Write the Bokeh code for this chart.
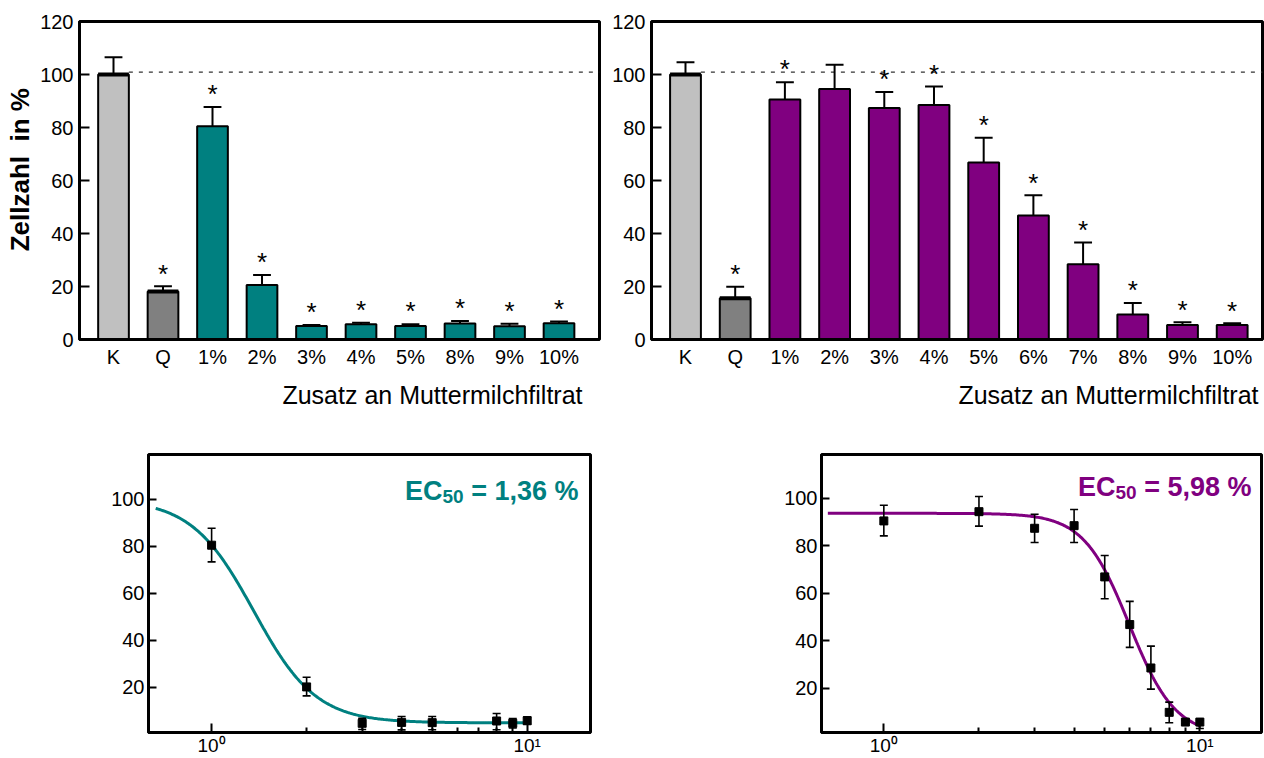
import numpy as np
from bokeh.plotting import figure
from bokeh.layouts import column, row
from bokeh.models import FixedTicker, Range1d, ColumnDataSource, BasicTickFormatter
from bokeh.embed import file_html
from bokeh.resources import INLINE
from bokeh.core.properties import value

FONT = "Liberation Sans"
TEAL = "#008080"
PURPLE = "#800080"
CTRL = "#C0C0C0"
QCOL = "#808080"

# ---------------- data: bar charts ----------------
cats_left = ["K", "Q", "1%", "2%", "3%", "4%", "5%", "8%", "9%", "10%"]
vals_left = [100, 18.1, 80.5, 20.6, 5.1, 5.8, 5.1, 6.0, 5.0, 6.1]
err_left = [106.5, 20.1, 87.7, 24.3, 5.5, 6.3, 5.8, 7.0, 5.9, 6.8]
sig_left = [False, True, True, True, True, True, True, True, True, True]

cats_right = ["K", "Q", "1%", "2%", "3%", "4%", "5%", "6%", "7%", "8%", "9%", "10%"]
vals_right = [100, 15.6, 90.6, 94.5, 87.4, 88.5, 66.8, 46.8, 28.4, 9.4, 5.5, 5.5]
err_right = [104.6, 19.9, 97.1, 103.7, 93.4, 95.5, 76.1, 54.4, 36.6, 13.8, 6.5, 6.1]
sig_right = [False, True, True, False, True, True, True, True, True, True, True, True]

ref_level = 100.9

# ---------------- data: dose-response ----------------
dose_left = [1, 2, 3, 4, 5, 8, 9, 10]
resp_left = [80.4, 20.1, 4.6, 5.0, 4.9, 5.6, 4.6, 5.7]
lo_left = [73.3, 16.3, 2.0, 1.8, 1.9, 1.9, 2.6, 4.2]
hi_left = [87.6, 24.2, 6.7, 7.5, 7.5, 8.8, 6.6, 7.4]

dose_right = [1, 2, 3, 4, 5, 6, 7, 8, 9, 10]
resp_right = [90.5, 94.4, 87.4, 88.5, 66.9, 46.8, 28.5, 9.8, 5.7, 5.7]
lo_right = [84.2, 88.3, 81.4, 81.4, 57.7, 37.2, 19.6, 5.4, 5.0, 3.0]
hi_right = [97.1, 100.8, 93.3, 95.3, 75.9, 56.6, 37.7, 14.1, 6.4, 6.4]

# fitted 4-parameter logistic models (top, bottom, EC50, hill)
fit_left = dict(top=100.0, bottom=4.8, ec50=1.36, hill=4.4, xmin=0.665, xmax=10.25)
fit_right = dict(top=93.7, bottom=0.0, ec50=5.98, hill=6.0, xmin=0.665, xmax=10.0)
ec_text_left = "1,36"
ec_text_right = "5,98"

X_TITLE = "Zusatz an Muttermilchfiltrat"
Y_TITLE = "\u00a0\u00a0\u00a0Zellzahl\u00a0 in %"
BAR_W = 0.62


def style_common(p):
    p.grid.visible = False
    p.outline_line_color = "black"
    p.outline_line_width = 3
    p.background_fill_color = "white"
    p.border_fill_color = "white"
    for ax in (p.xaxis[0], p.yaxis[0]):
        ax.axis_line_width = 3
        ax.axis_line_color = "black"
        ax.major_label_text_font = FONT
        ax.major_label_text_color = "black"
        ax.major_tick_line_width = 2
        ax.major_tick_line_color = "black"
        ax.minor_tick_line_color = None


def bar_panel(cats, vals, errs, sig, color, width, height, mb, x_rng, title_offset,
              title_standoff, ylabel=None):
    n = len(cats)
    xs = list(range(n))
    fills = [CTRL, QCOL] + [color] * (n - 2)
    p = figure(width=width, height=height, x_range=Range1d(*x_rng), y_range=Range1d(0, 120),
               output_backend="svg", toolbar_location=None, title_location="below",
               min_border_left=mb[0], min_border_right=mb[1],
               min_border_top=mb[2], min_border_bottom=mb[3])
    style_common(p)
    src = ColumnDataSource(dict(x=xs, top=vals, err=errs, fill=fills,
                                c0=[x - 0.18 for x in xs], c1=[x + 0.18 for x in xs]))
    # reference line (control level)
    p.segment(x0=[xs[0] + BAR_W / 2], y0=[ref_level], x1=[x_rng[1]], y1=[ref_level],
              line_color="#333333", line_width=1.2, line_dash="4 6")
    # error bars (upper only)
    p.segment(x0="x", y0="top", x1="x", y1="err", source=src, line_color="black", line_width=2)
    p.segment(x0="c0", y0="err", x1="c1", y1="err", source=src, line_color="black", line_width=2)
    # bars
    p.vbar(x="x", top="top", width=BAR_W, fill_color="fill", line_color="black",
           line_width=2, source=src)
    # thicker top edge of control bars
    p.segment(x0=[x - BAR_W / 2 for x in xs[:2]], y0=vals[:2],
              x1=[x + BAR_W / 2 for x in xs[:2]], y1=vals[:2],
              line_color="black", line_width=4)
    # significance stars
    sx = [x for x, s in zip(xs, sig) if s]
    sy = [e + 4.8 for e, s in zip(errs, sig) if s]
    p.text(x=sx, y=sy, text=["*"] * len(sx), text_align="center", text_baseline="alphabetic",
           text_font=value(FONT), text_font_size="26px", text_color="black")

    p.yaxis.ticker = FixedTicker(ticks=[0, 20, 40, 60, 80, 100, 120])
    p.yaxis.major_tick_in = 10
    p.yaxis.major_tick_out = 0
    p.yaxis.major_label_standoff = 6
    p.yaxis.major_label_text_font_size = "20px"
    p.xaxis.ticker = FixedTicker(ticks=xs)
    p.xaxis.major_label_overrides = {i: c for i, c in enumerate(cats)}
    p.xaxis.major_tick_in = 0
    p.xaxis.major_tick_out = 0
    p.xaxis.major_tick_line_color = None
    p.xaxis.major_label_standoff = 6
    p.xaxis.major_label_text_font_size = "20px"
    if ylabel:
        p.yaxis.axis_label = ylabel
        p.yaxis.axis_label_text_font = FONT
        p.yaxis.axis_label_text_font_style = "bold"
        p.yaxis.axis_label_text_font_size = "26px"
        p.yaxis.axis_label_text_color = "black"
        p.yaxis.axis_label_standoff = 2
    p.title.text = X_TITLE
    p.title.align = "right"
    p.title.offset = title_offset
    p.title.standoff = title_standoff
    p.title.text_font = FONT
    p.title.text_font_style = "normal"
    p.title.text_font_size = "25px"
    p.title.text_color = "black"
    return p


CHAR_W = {" ": 0.278, "\u00a0": 0.278, "=": 0.584, ",": 0.278, "%": 0.889, "E": 0.667, "C": 0.722}


def text_w(s, size):
    return sum(CHAR_W.get(ch, 0.556) for ch in s) * size


def dose_panel(dose, resp, lo, hi, fit, color, ec_txt, width, height, mb, x_rng, y_rng,
               ec_right_px, ec_base_px):
    p = figure(width=width, height=height, x_axis_type="log",
               x_range=Range1d(*x_rng), y_range=Range1d(*y_rng),
               output_backend="svg", toolbar_location=None,
               min_border_left=mb[0], min_border_right=mb[1],
               min_border_top=mb[2], min_border_bottom=mb[3])
    style_common(p)
    # fitted curve
    cx = np.logspace(np.log10(fit["xmin"]), np.log10(fit["xmax"]), 300)
    cy = fit["bottom"] + (fit["top"] - fit["bottom"]) / (1 + (cx / fit["ec50"]) ** fit["hill"])
    p.line(cx, cy, line_color=color, line_width=3)
    # error bars
    p.segment(x0=dose, y0=lo, x1=dose, y1=hi, line_color="black", line_width=1.6)
    p.scatter(dose, hi, marker="dash", size=8, line_color="black", line_width=1.6)
    p.scatter(dose, lo, marker="dash", size=8, line_color="black", line_width=1.6)
    p.scatter(dose, resp, marker="square", size=8, fill_color="black", line_color="black")

    # EC50 label (EC + subscript 50 + value)
    fw = width - mb[0] - mb[1]
    fh = height - mb[2] - mb[3]
    lx0, lx1 = np.log10(x_rng[0]), np.log10(x_rng[1])
    ppx = fw / (lx1 - lx0)
    ppy = fh / (y_rng[1] - y_rng[0])

    def X(px_from_right):
        return 10 ** (lx1 - px_from_right / ppx)

    def Y(px_from_top):
        return y_rng[1] - px_from_top / ppy

    main = "\u00a0= " + ec_txt + " %"
    big, small = 27, 19
    w_main = text_w(main, big)
    w_sub = text_w("50", small)
    common = dict(text_align="right", text_baseline="alphabetic", text_font=value(FONT),
                  text_font_style="bold", text_color=color)
    p.text(x=[X(ec_right_px)], y=[Y(ec_base_px)], text=[main], text_font_size=f"{big}px", **common)
    p.text(x=[X(ec_right_px + w_main)], y=[Y(ec_base_px + 5)], text=["50"],
           text_font_size=f"{small}px", **common)
    p.text(x=[X(ec_right_px + w_main + w_sub)], y=[Y(ec_base_px)], text=["EC"],
           text_font_size=f"{big}px", **common)

    p.xaxis.ticker = FixedTicker(ticks=[1, 10], minor_ticks=[2, 3, 4, 5, 6, 7, 8, 9])
    p.xaxis.formatter = BasicTickFormatter()
    p.xaxis.major_label_overrides = {1: "10⁰", 10: "10¹"}
    p.xaxis.major_tick_in = 9
    p.xaxis.major_tick_out = 0
    p.xaxis.minor_tick_in = 5
    p.xaxis.minor_tick_out = 0
    p.xaxis.minor_tick_line_color = "black"
    p.xaxis.minor_tick_line_width = 2
    p.xaxis.major_label_standoff = 2
    p.xaxis.major_label_text_font_size = "19px"
    p.yaxis.ticker = FixedTicker(ticks=[20, 40, 60, 80, 100])
    p.yaxis.major_tick_in = 8
    p.yaxis.major_tick_out = 0
    p.yaxis.major_label_standoff = 4
    p.yaxis.major_label_text_font_size = "20px"
    return p


p1 = bar_panel(cats_left, vals_left, err_left, sig_left, TEAL, 606, 430, (79, 7, 21, 91),
               (-0.687, 9.818), 17, 16, ylabel=Y_TITLE)
p2 = bar_panel(cats_right, vals_right, err_right, sig_right, PURPLE, 658, 430, (45, 2, 20, 88),
               (-0.684, 11.61), 4, 16)
p3 = dose_panel(dose_left, resp_left, lo_left, hi_left, fit_left, TEAL, ec_text_left,
                606, 328, (148, 16, 24, 25), (0.631, 15.87), (0.7, 119), 12, 36.7)
p4 = dose_panel(dose_right, resp_right, lo_right, hi_right, fit_right, PURPLE, ec_text_right,
                658, 328, (215, 3, 19, 25), (0.635, 15.67), (1.3, 118.5), 10, 33.7)

layout = column(row(p1, p2, spacing=0), row(p3, p4, spacing=0), spacing=0)
open("out.html", "w").write(file_html(layout, INLINE))
